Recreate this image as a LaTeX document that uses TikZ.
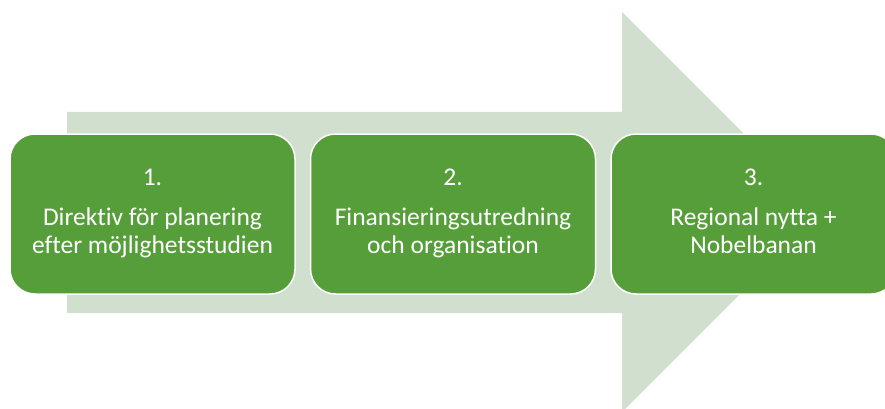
\documentclass[tikz,border=0pt]{standalone}
\usepackage{fontspec}
\setmainfont{Carlito}[Ligatures=NoCommon]
\usetikzlibrary{positioning}
\definecolor{boxgreen}{HTML}{559E3A}
\definecolor{bandgreen}{HTML}{D1E0CE}

\begin{document}
\begin{tikzpicture}[x=1pt,y=-1pt,node distance=14pt,
    stepbox/.style={rectangle,rounded corners=25pt,draw=white,line width=1.5pt,fill=boxgreen,
      text=white,minimum width=285pt,minimum height=160pt,align=center,
      font=\fontsize{25.5}{28.5}\selectfont},
    band/.style={fill=bandgreen}]

  \useasboundingbox (0,0) rectangle (885,409);

  % big arrow behind the steps
  \fill[band] (67,112) -- (622,112) -- (622,12) -- (822,212) -- (622,412)
    -- (622,313) -- (67,313) -- cycle;

  \node[stepbox] (plan) at (152.5,214) {\strut 1.\\[11.5pt]Direktiv för planering\\efter möjlighetsstudien\strut};
  \node[stepbox] (finans) [right=of plan] {\strut 2.\\[11.5pt]Finansieringsutredning\\och organisation\strut};
  \node[stepbox] (nytta) [right=of finans] {\strut 3.\\[11.5pt]Regional nytta +\\Nobelbanan\strut};

\end{tikzpicture}
\end{document}
